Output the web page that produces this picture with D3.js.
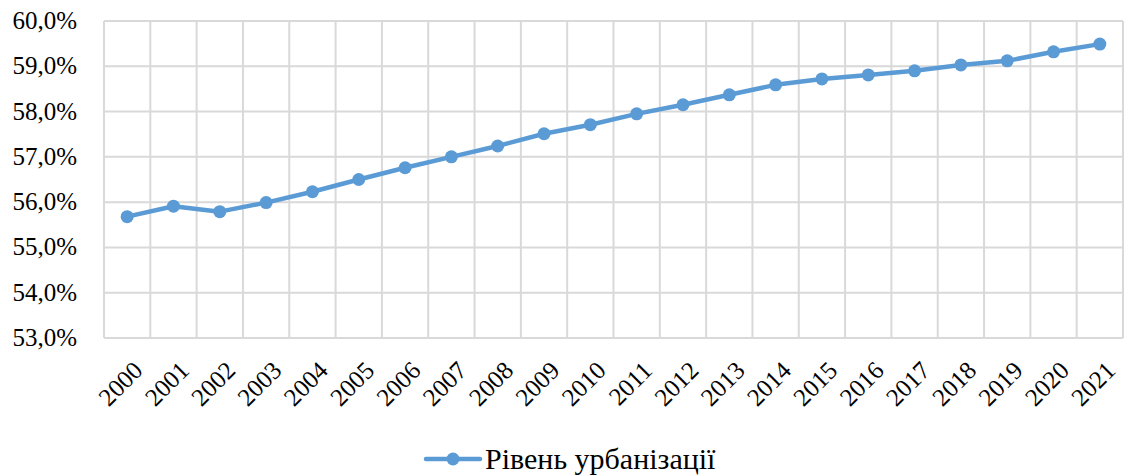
<!DOCTYPE html>
<html>
<head>
<meta charset="UTF-8">
</head>
<body style="margin:0">
<script src="https://d3js.org/d3.v7.min.js"></script>
<script>
var width = 1126, height = 475;
var padding = {left: 104, right: 3, top: 21, bottom: 137};

var years = ["2000","2001","2002","2003","2004","2005","2006","2007","2008","2009","2010",
             "2011","2012","2013","2014","2015","2016","2017","2018","2019","2020","2021"];
var urbanization = [55.68, 55.91, 55.79, 55.99, 56.23, 56.50, 56.76, 57.00, 57.24, 57.51, 57.71,
                    57.95, 58.15, 58.37, 58.59, 58.72, 58.81, 58.90, 59.03, 59.12, 59.32, 59.49];
var yTicks = [53, 54, 55, 56, 57, 58, 59, 60];
var seriesName = "Рівень урбанізації";

var color = "#5B9BD5";
var grid = "#d9d9d9";

function textStyle(size) {
  return "font-family: 'Liberation Serif', 'Times New Roman', serif !important; font-size: " + size + "px !important;";
}

var svg = d3.select("body").append("svg").attr("width", width).attr("height", height)
  .style("display", "block");

var XScale = d3.scaleBand().domain(years).range([padding.left, width - padding.right]);
var YScale = d3.scaleLinear().domain([53, 60]).range([height - padding.bottom, padding.top]);

// горизонтальна сітка
svg.append("g").selectAll("line").data(yTicks).enter().append("line")
  .attr("x1", padding.left).attr("x2", width - padding.right)
  .attr("y1", function(d){ return YScale(d); }).attr("y2", function(d){ return YScale(d); })
  .attr("stroke", grid).attr("stroke-width", 2);

// вертикальна сітка на межах категорій
var bounds = years.map(function(d){ return XScale(d); }).concat([XScale.range()[1]]);
svg.append("g").selectAll("line").data(bounds).enter().append("line")
  .attr("x1", function(d){ return d; }).attr("x2", function(d){ return d; })
  .attr("y1", YScale(60)).attr("y2", YScale(53))
  .attr("stroke", grid).attr("stroke-width", 2);

// підписи осі Y
svg.append("g").selectAll("text").data(yTicks).enter().append("text")
  .attr("x", padding.left - 27).attr("y", function(d){ return YScale(d) + 8; })
  .attr("text-anchor", "end")
  .attr("style", textStyle(25))
  .text(function(d){ return d.toFixed(1).replace(".", ",") + "%"; });

// підписи осі X
svg.append("g").selectAll("text").data(years).enter().append("text")
  .attr("transform", function(d){
    var x = XScale(d) + XScale.bandwidth() / 2 + 5;
    var y = YScale(53) + 22;
    return "translate(" + x + "," + y + ") rotate(-45)";
  })
  .attr("text-anchor", "end").attr("y", 17)
  .attr("style", textStyle(25))
  .text(function(d){ return d; });

// лінія
var line = d3.line()
  .x(function(d, i){ return XScale(years[i]) + XScale.bandwidth() / 2; })
  .y(function(d){ return YScale(d); });

svg.append("path").datum(urbanization)
  .attr("d", line).attr("fill", "none")
  .attr("stroke", color).attr("stroke-width", 4.5).attr("stroke-linejoin", "round");

svg.append("g").selectAll("circle").data(urbanization).enter().append("circle")
  .attr("cx", function(d, i){ return XScale(years[i]) + XScale.bandwidth() / 2; })
  .attr("cy", function(d){ return YScale(d); })
  .attr("r", 6.5).attr("fill", color);

// легенда
var lg = svg.append("g").attr("transform", "translate(426,459)");
lg.append("line").attr("x1", 0).attr("x2", 54).attr("y1", 0).attr("y2", 0)
  .attr("stroke", color).attr("stroke-width", 4.5).attr("stroke-linecap", "round");
lg.append("circle").attr("cx", 27).attr("cy", 0).attr("r", 6.5).attr("fill", color);
lg.append("text").attr("x", 59).attr("y", 10)
  .attr("style", textStyle(30)).text(seriesName);
</script>
</body>
</html>
